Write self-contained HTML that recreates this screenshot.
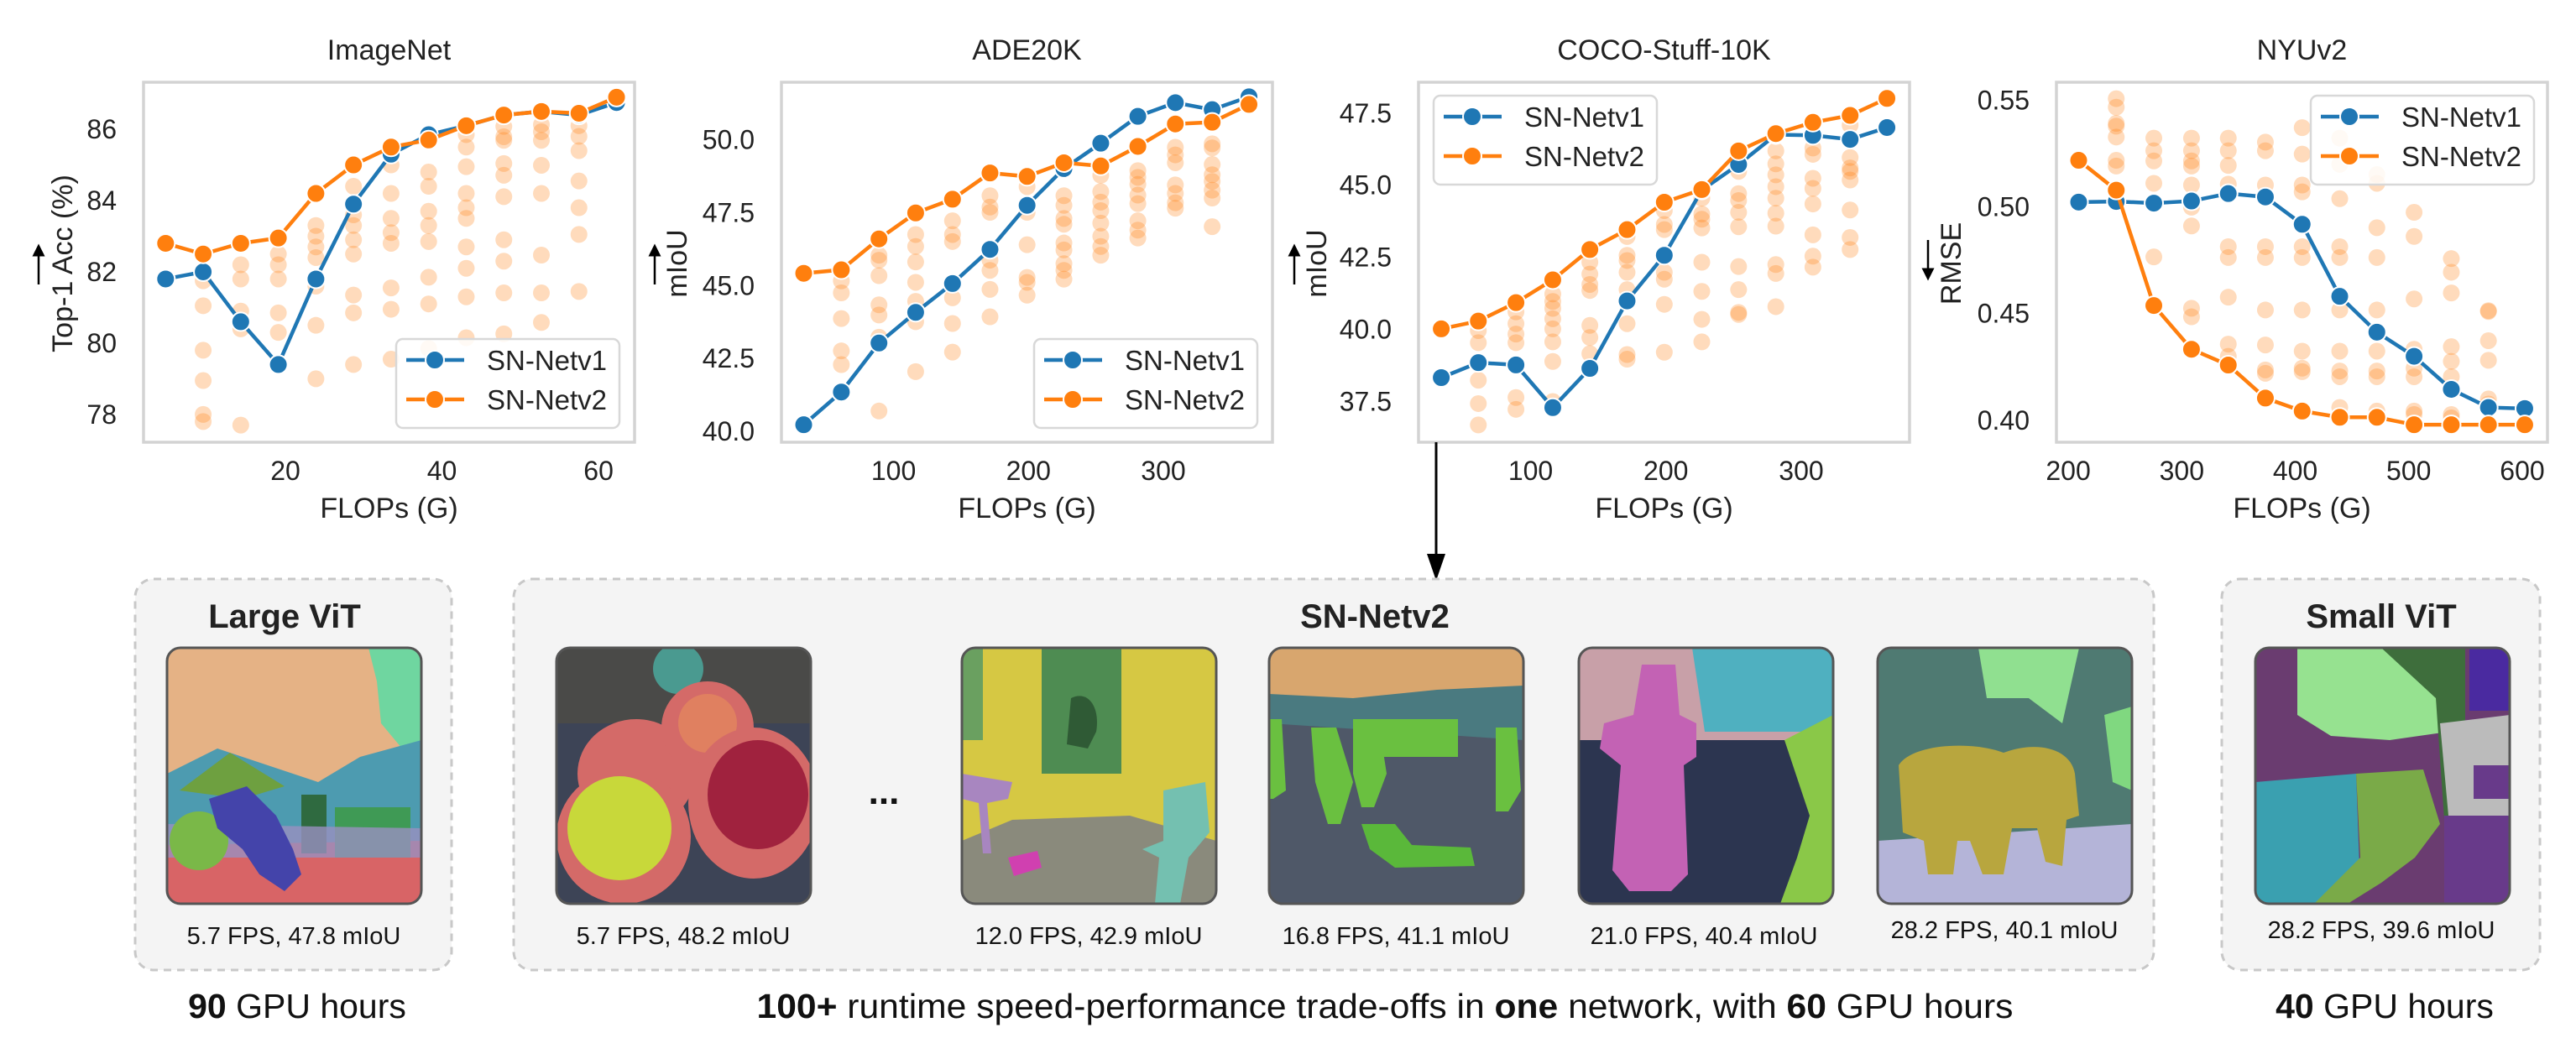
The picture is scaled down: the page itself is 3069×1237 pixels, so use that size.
<!DOCTYPE html>
<html><head><meta charset="utf-8"><style>
html,body{margin:0;padding:0;background:#fff;}
svg{display:block;font-family:"Liberation Sans",Arial,sans-serif;}
</style></head><body>
<svg id="fig" width="3069" height="1237" viewBox="0 0 3069 1237" xmlns="http://www.w3.org/2000/svg">
<defs>
<marker id="ah" viewBox="0 0 10 10" refX="5" refY="5" markerWidth="6" markerHeight="6" orient="auto-start-reverse"><path d="M0,0 L10,5 L0,10 z" fill="#000"/></marker>
<clipPath id="imgclip"><rect x="0" y="0" width="303" height="305" rx="16"/></clipPath>
</defs>
<g id="charts"></g>

<!-- arrow from COCO chart to SN-Netv2 -->
<line x1="1711" y1="527" x2="1711" y2="660" stroke="#000" stroke-width="3"/>
<polygon points="1700,660 1722,660 1711,692" fill="#000"/>

<!-- boxes -->
<rect x="161" y="690" width="377" height="466" rx="22" fill="#f4f4f4" stroke="#c8c8c8" stroke-width="3" stroke-dasharray="9,7"/>
<rect x="612" y="690" width="1954" height="466" rx="22" fill="#f4f4f4" stroke="#c8c8c8" stroke-width="3" stroke-dasharray="9,7"/>
<rect x="2647" y="690" width="379" height="466" rx="22" fill="#f4f4f4" stroke="#c8c8c8" stroke-width="3" stroke-dasharray="9,7"/>

<text x="339" y="748" text-anchor="middle" font-size="40" font-weight="bold" fill="#222">Large ViT</text>
<text x="1638" y="748" text-anchor="middle" font-size="40" font-weight="bold" fill="#222">SN-Netv2</text>
<text x="2837" y="748" text-anchor="middle" font-size="40" font-weight="bold" fill="#222">Small ViT</text>

<!-- image: large vit -->
<g transform="translate(199,772)">
<g clip-path="url(#imgclip)">
<rect width="303" height="305" fill="#d86466"/>
<rect width="303" height="180" fill="#e5b285"/>
<path d="M240,0 L303,0 L303,110 L280,120 L255,90 L250,40 z" fill="#6fd6a0"/>
<path d="M0,150 L60,120 L120,140 L180,160 L230,130 L303,110 L303,230 L0,235 z" fill="#4d9bb0"/>
<path d="M15,170 L75,125 L140,165 L90,180 z" fill="#6ea040"/>
<rect x="160" y="175" width="30" height="70" fill="#2f6a40"/>
<rect x="200" y="190" width="90" height="60" fill="#3f9a55"/>
<path d="M0,210 L303,215 L303,250 L0,250 z" fill="#9a90c0" opacity="0.8"/>
<circle cx="38" cy="230" r="35" fill="#7ab848"/>
<path d="M50,180 L95,165 L130,200 L150,240 L160,270 L140,290 L110,270 L90,240 L60,215 z" fill="#4444aa"/>
</g>
<rect width="303" height="305" rx="16" fill="none" stroke="#555" stroke-width="3"/>
</g>

<!-- image 1: bowls -->
<g transform="translate(663,772)">
<g clip-path="url(#imgclip)">
<rect width="303" height="305" fill="#3d4456"/>
<rect width="303" height="90" fill="#4a4a48"/>
<circle cx="145" cy="25" r="30" fill="#4a9a90"/>
<ellipse cx="95" cy="150" rx="70" ry="65" fill="#d46a68"/>
<ellipse cx="180" cy="95" rx="55" ry="55" fill="#d46a68"/>
<ellipse cx="180" cy="90" rx="35" ry="35" fill="#e08060"/>
<ellipse cx="80" cy="225" rx="80" ry="80" fill="#d46a68"/>
<ellipse cx="75" cy="215" rx="62" ry="62" fill="#c8d83a"/>
<ellipse cx="235" cy="185" rx="78" ry="90" fill="#d46a68"/>
<ellipse cx="240" cy="175" rx="60" ry="65" fill="#a0223e"/>
</g>
<rect width="303" height="305" rx="16" fill="none" stroke="#555" stroke-width="3"/>
</g>

<text x="1053" y="958" text-anchor="middle" font-size="44" font-weight="bold" fill="#111">...</text>

<!-- image 2: bathroom -->
<g transform="translate(1146,772)">
<g clip-path="url(#imgclip)">
<rect width="303" height="305" fill="#d6c843"/>
<rect x="95" y="0" width="95" height="150" fill="#4e8c52"/>
<path d="M130,60 C150,50 165,70 160,100 L150,120 L125,115 z" fill="#2f5a35"/>
<rect x="0" y="0" width="25" height="110" fill="#6aa060"/>
<path d="M0,230 L60,205 L200,200 L303,230 L303,305 L0,305 z" fill="#8a8a7c"/>
<path d="M0,150 L60,160 L55,180 L30,185 L35,245 L25,245 L20,185 L0,180 z" fill="#a886c0"/>
<path d="M240,170 L290,160 L295,220 L270,250 L260,305 L230,305 L235,250 L215,240 L240,230 z" fill="#74c0b0"/>
<path d="M55,250 L90,242 L95,262 L62,272 z" fill="#d040b0"/>
</g>
<rect width="303" height="305" rx="16" fill="none" stroke="#555" stroke-width="3"/>
</g>

<!-- image 3: field -->
<g transform="translate(1512,772)">
<g clip-path="url(#imgclip)">
<rect width="303" height="305" fill="#4f5868"/>
<rect width="303" height="60" fill="#d8a66e"/>
<path d="M0,55 L100,60 L200,50 L303,45 L303,110 L0,90 z" fill="#4a7a80"/>
<path d="M50,95 L80,95 L100,160 L85,210 L70,210 L55,160 z" fill="#6ac040"/>
<path d="M100,85 L130,85 L140,150 L125,190 L110,190 L100,150 z" fill="#6ac040"/>
<rect x="125" y="85" width="100" height="45" fill="#6ac040"/>
<path d="M270,95 L295,95 L300,170 L285,195 L270,195 z" fill="#6ac040"/>
<path d="M0,85 L15,85 L20,170 L5,180 L0,180 z" fill="#6ac040"/>
<path d="M110,210 L150,210 L170,235 L240,238 L245,260 L150,262 L120,240 z" fill="#5ab83a"/>
</g>
<rect width="303" height="305" rx="16" fill="none" stroke="#555" stroke-width="3"/>
</g>

<!-- image 4: hydrant -->
<g transform="translate(1881,772)">
<g clip-path="url(#imgclip)">
<rect width="303" height="305" fill="#2c3550"/>
<rect width="303" height="110" fill="#c8a0a8"/>
<path d="M135,0 L303,0 L303,100 L270,100 L150,100 z" fill="#4fb0c0"/>
<path d="M245,110 L303,80 L303,305 L240,305 L260,250 L275,200 z" fill="#8ac848"/>
<path d="M75,20 L115,20 L120,80 L140,90 L140,130 L125,140 L130,270 L110,290 L60,290 L40,265 L50,140 L25,120 L30,90 L65,80 z" fill="#c362b4"/>
</g>
<rect width="303" height="305" rx="16" fill="none" stroke="#555" stroke-width="3"/>
</g>

<!-- image 5: elephants -->
<g transform="translate(2237,772)">
<g clip-path="url(#imgclip)">
<rect width="303" height="305" fill="#4f7a72"/>
<path d="M120,0 L240,0 L220,90 L180,60 L130,60 z" fill="#90e090"/>
<path d="M270,80 L303,70 L303,170 L280,160 z" fill="#80d880"/>
<path d="M0,230 L303,210 L303,305 L0,305 z" fill="#b4b4d8"/>
<path d="M25,140 C40,115 110,110 150,125 C190,110 230,120 235,150 L240,200 L225,205 L220,260 L200,255 L190,215 L160,215 L150,270 L125,270 L110,230 L95,230 L90,270 L60,270 L55,230 L30,220 z" fill="#b8a63e"/>
</g>
<rect width="303" height="305" rx="16" fill="none" stroke="#555" stroke-width="3"/>
</g>

<!-- image: small vit -->
<g transform="translate(2687,772)">
<g clip-path="url(#imgclip)">
<rect width="303" height="305" fill="#6a3c70"/>
<path d="M50,0 L230,0 L230,100 L160,110 L90,105 L50,80 z" fill="#96e290"/>
<rect x="255" y="0" width="48" height="75" fill="#4a2aa0"/>
<path d="M150,0 L250,0 L250,200 L225,205 L215,60 z" fill="#3e6e3c"/>
<path d="M0,160 L120,150 L125,290 L70,305 L0,305 z" fill="#3aa0b0"/>
<path d="M120,150 L200,145 L220,210 L190,250 L150,280 L110,305 L70,305 L125,250 z" fill="#7aaa48"/>
<path d="M220,90 L303,80 L303,305 L225,305 L230,200 z" fill="#bbbbbb"/>
<rect x="225" y="200" width="78" height="105" fill="#683a8a"/>
<rect x="260" y="140" width="43" height="40" fill="#683a8a"/>
</g>
<rect width="303" height="305" rx="16" fill="none" stroke="#555" stroke-width="3"/>
</g>

<!-- captions -->
<g font-size="29" fill="#111" text-anchor="middle">
<text x="350" y="1125">5.7 FPS, 47.8 mIoU</text>
<text x="814" y="1125">5.7 FPS, 48.2 mIoU</text>
<text x="1297" y="1125">12.0 FPS, 42.9 mIoU</text>
<text x="1663" y="1125">16.8 FPS, 41.1 mIoU</text>
<text x="2030" y="1125">21.0 FPS, 40.4 mIoU</text>
<text x="2388" y="1118">28.2 FPS, 40.1 mIoU</text>
<text x="2837" y="1118">28.2 FPS, 39.6 mIoU</text>
</g>

<g font-size="41" fill="#111" text-anchor="middle">
<text x="354" y="1213"><tspan font-weight="bold">90</tspan> GPU hours</text>
<text x="1650" y="1213" textLength="1497" lengthAdjust="spacingAndGlyphs"><tspan font-weight="bold">100+</tspan> runtime speed-performance trade-offs in <tspan font-weight="bold">one</tspan> network, with <tspan font-weight="bold">60</tspan> GPU hours</text>
<text x="2841" y="1213"><tspan font-weight="bold">40</tspan> GPU hours</text>
</g>
</svg>

<script>
// ===== ImageNet data =====
const inX = [4.7, 9.5, 14.3, 19.1, 23.9, 28.7, 33.5, 38.3, 43.1, 47.9, 52.7, 57.5, 62.3];
const inV1 = [81.8, 82.0, 80.6, 79.4, 81.8, 83.9, 85.3, 85.85, 86.1, 86.4, 86.5, 86.4, 86.75];
const inV2 = [82.8, 82.5, 82.8, 82.95, 84.2, 85.0, 85.5, 85.7, 86.1, 86.4, 86.5, 86.45, 86.9];
const inScatter = [
  [], [81.75, 81.05, 79.8, 78.95, 78.0, 77.8], [82.2, 81.8, 80.9, 80.4, 77.7],
  [82.5, 82.2, 81.8, 80.85, 80.3], [83.3, 83.0, 82.7, 82.4, 81.6, 80.5, 79.0],
  [84.4, 83.6, 83.3, 82.9, 82.5, 81.35, 80.85, 79.4], [85.0, 84.2, 83.5, 83.1, 82.8, 81.55, 80.95, 79.55],
  [84.8, 84.4, 83.7, 83.3, 82.85, 81.85, 81.1, 79.85], [85.85, 85.5, 84.95, 84.2, 83.8, 83.5, 82.7, 82.1, 81.3, 80.15],
  [86.08, 85.79, 85.69, 85.04, 84.71, 84.11, 82.9, 82.3, 81.41, 80.26], [86.13, 85.93, 85.69, 84.99, 84.2, 82.47, 81.41, 80.58],
  [86.1, 85.8, 85.4, 84.55, 83.8, 83.05, 81.45], []
];
const inXTicks = [20, 40, 60];
const inYTicks = [78, 80, 82, 84, 86];

// ===== ADE20K data =====
const adeX = [33.4, 61.3, 89.2, 116.4, 143.7, 171.5, 199, 226.3, 253.6, 281.1, 308.9, 336.2, 363.5];
const adeV1 = [40.23, 41.35, 43.03, 44.08, 45.07, 46.24, 47.75, 49.01, 49.88, 50.8, 51.27, 51.03, 51.47];
const adeV2 = [45.42, 45.54, 46.6, 47.49, 47.96, 48.86, 48.74, 49.21, 49.1, 49.77, 50.54, 50.6, 51.21];
const adeScatter = [
  [], [45.16, 44.75, 43.87, 42.76, 42.29], [46.04, 45.87, 45.34, 44.34, 43.99, 43.23, 40.7],
  [46.75, 46.34, 45.81, 45.11, 44.46, 43.76, 42.05], [47.22, 46.75, 46.51, 44.58, 43.7, 42.72],
  [48.08, 47.69, 47.51, 45.87, 45.52, 44.87, 43.93], [48.39, 47.51, 46.4, 45.28, 45.11, 44.67],
  [48.08, 47.75, 47.3, 47.1, 46.46, 46.22, 45.75, 45.52, 45.22], [48.78, 48.22, 47.86, 47.57, 47.14, 46.69, 46.34, 46.04],
  [48.94, 48.71, 48.47, 48.1, 47.81, 47.22, 46.9, 46.63], [49.74, 49.48, 49.21, 48.45, 48.16, 47.84, 47.65],
  [49.86, 49.72, 49.15, 48.8, 48.57, 48.27, 48.0, 47.02], []
];
const adeXTicks = [100, 200, 300];
const adeYTicks = [40, 42.5, 45, 47.5, 50];

// ===== COCO-Stuff-10K data =====
const cocoX = [34, 61.4, 89.2, 116.4, 143.8, 171.3, 198.8, 226.5, 253.7, 281.2, 308.6, 336.1, 363.3];
const cocoV1 = [38.33, 38.85, 38.77, 37.29, 38.65, 40.99, 42.57, 44.83, 45.72, 46.75, 46.73, 46.59, 47.0];
const cocoV2 = [40.02, 40.29, 40.93, 41.72, 42.77, 43.46, 44.41, 44.85, 46.19, 46.79, 47.18, 47.42, 48.01];
const cocoScatter = [
  [], [39.96, 39.54, 38.24, 37.43, 36.69], [40.61, 40.2, 39.84, 39.54, 37.64, 37.23],
  [41.23, 40.97, 40.73, 40.37, 40.02, 39.57, 38.89, 37.5], [42.33, 41.92, 41.56, 41.35, 40.14, 39.72, 39.16],
  [43.22, 42.57, 42.39, 41.98, 41.38, 40.2, 39.13, 38.97], [44.12, 43.64, 43.46, 41.98, 41.74, 40.87, 39.21],
  [44.55, 44.0, 43.82, 43.52, 42.33, 41.32, 40.35, 39.57], [45.48, 44.71, 44.47, 44.06, 43.56, 42.18, 41.38, 40.59, 40.52],
  [46.19, 45.74, 45.36, 44.95, 44.55, 44.03, 43.58, 42.25, 41.94, 40.79], [46.29, 46.07, 45.24, 44.89, 44.35, 43.28, 42.54, 42.16],
  [47.08, 45.96, 45.6, 45.48, 45.18, 44.14, 43.19, 42.77], []
];
const cocoXTicks = [100, 200, 300];
const cocoYTicks = [37.5, 40, 42.5, 45, 47.5];

// ===== NYUv2 data =====
const nyuX = [209.2, 242.3, 275.4, 308.6, 341, 373.7, 406.1, 439.2, 471.9, 504.7, 537.5, 570.2, 602.2];
const nyuV1 = [0.5023, 0.5026, 0.5018, 0.5028, 0.5063, 0.5047, 0.4919, 0.4581, 0.4413, 0.43, 0.4145, 0.406, 0.4055];
const nyuV2 = [0.5219, 0.5079, 0.4538, 0.4333, 0.4259, 0.4104, 0.4043, 0.4014, 0.4014, 0.3979, 0.3979, 0.3979, 0.3979];
const nyuScatter = [
  [], [0.5508, 0.5468, 0.5392, 0.5379, 0.5328, 0.5219, 0.5192], [0.5323, 0.5264, 0.5216, 0.5111, 0.4766],
  [0.5323, 0.5264, 0.5216, 0.5192, 0.5103, 0.4999, 0.4911, 0.4525, 0.4485],
  [0.5323, 0.5264, 0.5195, 0.5107, 0.4814, 0.4763, 0.4577, 0.4357, 0.43],
  [0.5304, 0.5264, 0.5103, 0.4814, 0.4763, 0.4517, 0.4353, 0.4236, 0.422],
  [0.5372, 0.5248, 0.5103, 0.5071, 0.4814, 0.4763, 0.4517, 0.4324, 0.4244, 0.4228],
  [0.5323, 0.52, 0.5039, 0.4814, 0.4763, 0.4517, 0.4324, 0.4231, 0.4204, 0.406],
  [0.5152, 0.5111, 0.4903, 0.4763, 0.4517, 0.4324, 0.4231, 0.4204, 0.4043],
  [0.4975, 0.4862, 0.4569, 0.4333, 0.4244, 0.4204, 0.4043, 0.4027],
  [0.4758, 0.4694, 0.4597, 0.4345, 0.4276, 0.4204, 0.4027, 0.4011],
  [0.4514, 0.451, 0.4373, 0.4281, 0.41, 0.4076], []
];
const nyuXTicks = [200, 300, 400, 500, 600];
const nyuYTicks = [0.40, 0.45, 0.50, 0.55];

const NS = 'http://www.w3.org/2000/svg';
const root = document.getElementById('charts');
const BLUE = '#1f77b4', ORANGE = '#ff7f0e';

function mk(tag, attrs, parent) {
  const e = document.createElementNS(NS, tag);
  for (const k in attrs) e.setAttribute(k, attrs[k]);
  (parent || root).appendChild(e);
  return e;
}

function drawChart(cfg) {
  const g = mk('g', {});
  
  
  const X0 = cfg.x0, X1 = cfg.x1, Y0 = 98, Y1 = 527;
  const sx = v => X0 + (v - cfg.xd[0]) / (cfg.xd[1] - cfg.xd[0]) * (X1 - X0);
  const sy = v => Y1 - (v - cfg.yd[0]) / (cfg.yd[1] - cfg.yd[0]) * (Y1 - Y0);

  const title = mk('text', {x: (X0 + X1) / 2, y: 71, 'text-anchor': 'middle', 'font-size': 34, fill: '#222'}, g);
  title.textContent = cfg.title;
  
  

  // ticks
  cfg.xt.forEach(t => {
    const tx = mk('text', {x: sx(t), y: 572, 'text-anchor': 'middle', 'font-size': 32, fill: '#222'}, g);
    tx.textContent = String(t);
    
    
  });
  cfg.yt.forEach(t => {
    const ty = mk('text', {x: X0 - 32, y: sy(t) + 11, 'text-anchor': 'end', 'font-size': 32, fill: '#222'}, g);
    ty.textContent = cfg.fmt(t);
    
    
  });

  const xl = mk('text', {x: (X0 + X1) / 2, y: 617, 'text-anchor': 'middle', 'font-size': 34, fill: '#222'}, g);
  xl.textContent = 'FLOPs (G)';
  
  

  const yl = mk('text', {x: 0, y: 0, 'text-anchor': 'middle', 'font-size': 34, fill: '#222', transform: 'translate(' + cfg.ylx + ',314) rotate(-90)'}, g);
  yl.textContent = cfg.ylabel;
  
  

  const ar = cfg.up
    ? mk('line', {x1: cfg.arx, y1: 339, x2: cfg.arx, y2: 298, stroke: '#000', 'stroke-width': 2.5, 'marker-end': 'url(#ah)'}, g)
    : mk('line', {x1: cfg.arx, y1: 286, x2: cfg.arx, y2: 327, stroke: '#000', 'stroke-width': 2.5, 'marker-end': 'url(#ah)'}, g);
  
  

  // scatter
  cfg.sc.forEach((col, i) => {
    col.forEach(v => {
      const c = mk('circle', {cx: sx(cfg.x[i]), cy: sy(v), r: 10, fill: ORANGE, 'fill-opacity': 0.28}, g);
      
      
    });
  });

  function series(vals, color, name) {
    const pts = vals.map((v, i) => sx(cfg.x[i]) + ',' + sy(v)).join(' ');
    const pl = mk('polyline', {points: pts, fill: 'none', stroke: color, 'stroke-width': 4.5}, g);
    
    
    vals.forEach((v, i) => {
      const c = mk('circle', {cx: sx(cfg.x[i]), cy: sy(v), r: 11, fill: color, stroke: '#fff', 'stroke-width': 2}, g);
      
      
    });
  }
  series(cfg.v1, BLUE, 'sn-netv1');
  series(cfg.v2, ORANGE, 'sn-netv2');

  const fr = mk('rect', {x: X0, y: Y0, width: X1 - X0, height: Y1 - Y0, fill: 'none', stroke: '#d3d3d3', 'stroke-width': 3.5}, g);
  
  

  // legend
  const L = cfg.leg;
  const lg = mk('g', {}, g);
  
  
  mk('rect', {x: L[0], y: L[1], width: 266, height: 106, rx: 8, fill: '#fff', 'fill-opacity': 0.85, stroke: '#d8d8d8', 'stroke-width': 2.5}, lg);
  [[BLUE, 'SN-Netv1', 25], [ORANGE, 'SN-Netv2', 72]].forEach(e => {
    const eg = mk('g', {}, lg);
    
    
    mk('line', {x1: L[0] + 12, y1: L[1] + e[2], x2: L[0] + 81, y2: L[1] + e[2], stroke: e[0], 'stroke-width': 4.5}, eg);
    mk('circle', {cx: L[0] + 46, cy: L[1] + e[2], r: 11, fill: e[0], stroke: '#fff', 'stroke-width': 2}, eg);
    const t = mk('text', {x: L[0] + 108, y: L[1] + e[2] + 12, 'font-size': 33, fill: '#222'}, eg);
    t.textContent = e[1];
  });
}

drawChart({id: 'imagenet', title: 'ImageNet', x0: 171, x1: 756, xd: [1.88, 64.6], yd: [77.22, 87.32],
  x: inX, v1: inV1, v2: inV2, sc: inScatter, xt: inXTicks, yt: inYTicks, fmt: t => String(t),
  ylabel: 'Top-1 Acc (%)', ylx: 86, arx: 46, up: true, leg: [472, 404]});
drawChart({id: 'ade20k', title: 'ADE20K', x0: 931, x1: 1516, xd: [16.9, 380.9], yd: [39.63, 51.97],
  x: adeX, v1: adeV1, v2: adeV2, sc: adeScatter, xt: adeXTicks, yt: adeYTicks, fmt: t => t.toFixed(1),
  ylabel: 'mIoU', ylx: 818, arx: 780, up: true, leg: [1232, 404]});
drawChart({id: 'coco', title: 'COCO-Stuff-10K', x0: 1690, x1: 2275, xd: [17.2, 380], yd: [36.09, 48.57],
  x: cocoX, v1: cocoV1, v2: cocoV2, sc: cocoScatter, xt: cocoXTicks, yt: cocoYTicks, fmt: t => t.toFixed(1),
  ylabel: 'mIoU', ylx: 1580, arx: 1542, up: true, leg: [1708, 114]});
drawChart({id: 'nyuv2', title: 'NYUv2', x0: 2450, x1: 3035, xd: [189.6, 622.2], yd: [0.3897, 0.5585],
  x: nyuX, v1: nyuV1, v2: nyuV2, sc: nyuScatter, xt: nyuXTicks, yt: nyuYTicks, fmt: t => t.toFixed(2),
  ylabel: 'RMSE', ylx: 2336, arx: 2297, up: false, leg: [2753, 114]});
</script>
</body></html>
